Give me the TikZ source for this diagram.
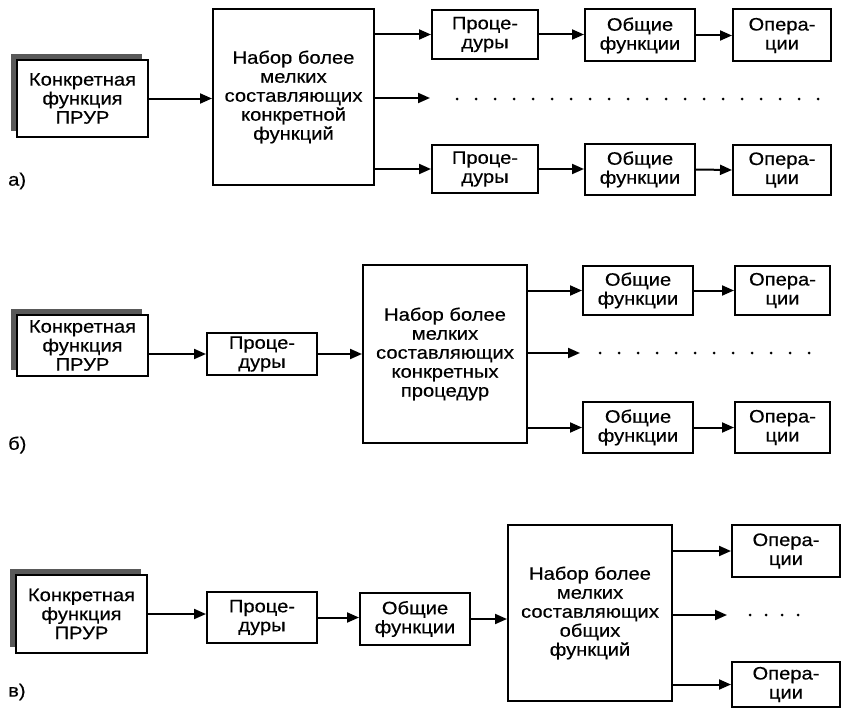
\documentclass[tikz,border=0pt]{standalone}
\usepackage{fontspec}
\setmainfont{Liberation Sans}[FakeStretch=1.12,FakeBold=0.4]
\usetikzlibrary{arrows.meta,shadows}
\begin{document}
\begin{tikzpicture}[x=1pt,y=-1pt,
 box/.style={draw, line width=2pt, fill=white, inner sep=0pt, align=center, font=\fontsize{18}{19}\selectfont},
 arr/.style={line width=2pt, -{Triangle[length=12pt,width=10pt]}},
 dotrow/.style={line width=3pt, line cap=round, dash pattern=on 0pt off #1},
 shad/.style={drop shadow={shadow xshift=-6pt,shadow yshift=6pt,fill=black!65,opacity=1}},
 lbl/.style={anchor=west, inner sep=0pt, font=\fontsize{18}{19}\selectfont}]
\useasboundingbox (0,0) rectangle (843,709);

% ---------- а) ----------
\node[box, shad, minimum width=131pt, minimum height=77pt] (c1) at (82.5,98.5) {Конкретная\\функция\\ПРУР};
\node[box, minimum width=161pt, minimum height=176pt] (b1) at (293.5,97) {Набор более\\мелких\\составляющих\\конкретной\\функций};
\node[box, minimum width=106pt, minimum height=49pt] (p1t) at (485,34.5) {Проце-\\дуры};
\node[box, minimum width=110pt, minimum height=52pt] (g1t) at (640,35.5) {Общие\\функции};
\node[box, minimum width=98pt, minimum height=52pt] (o1t) at (782,35.5) {Опера-\\ции};
\node[box, minimum width=106pt, minimum height=48pt] (p1b) at (485,169) {Проце-\\дуры};
\node[box, minimum width=110pt, minimum height=51pt] (g1b) at (640,169.5) {Общие\\функции};
\node[box, minimum width=98pt, minimum height=50pt] (o1b) at (782,170) {Опера-\\ции};
\coordinate (m1) at (430,98);
\coordinate (d1s) at (457,99);
\coordinate (d1e) at (820,99);
\node[lbl] (la) at (8,181) {а)};
\draw[arr] (c1.east) -- (c1.east -| b1.west);
\draw[arr] (b1.east |- p1t.west) -- (p1t.west);
\draw[arr] (b1.east |- m1) -- (m1);
\draw[arr] (b1.east |- p1b.west) -- (p1b.west);
\draw[arr] (p1t.east) -- (g1t.west |- p1t.east);
\draw[arr] (g1t.east) -- (o1t.west);
\draw[arr] (p1b.east) -- (g1b.west |- p1b.east);
\draw[arr] (g1b.east) -- (o1b.west);
\draw[dotrow=19pt] (d1s) -- (d1e);

% ---------- б) ----------
\node[box, shad, minimum width=131pt, minimum height=61pt] (c2) at (82.5,345.5) {Конкретная\\функция\\ПРУР};
\node[box, minimum width=110pt, minimum height=42pt] (p2) at (262,354) {Проце-\\дуры};
\node[box, minimum width=164pt, minimum height=178pt] (b2) at (445,354) {Набор более\\мелких\\составляющих\\конкретных\\процедур};
\node[box, minimum width=110pt, minimum height=49pt] (g2t) at (638,290.5) {Общие\\функции};
\node[box, minimum width=95pt, minimum height=49pt] (o2t) at (782.5,290.5) {Опера-\\ции};
\node[box, minimum width=110pt, minimum height=51pt] (g2b) at (638,427.5) {Общие\\функции};
\node[box, minimum width=95pt, minimum height=51pt] (o2b) at (782.5,427.5) {Опера-\\ции};
\coordinate (m2) at (580,353);
\coordinate (d2s) at (600,353);
\coordinate (d2e) at (810,353);
\node[lbl] (lb) at (8,445) {б)};
\draw[arr] (c2.east |- p2.west) -- (p2.west);
\draw[arr] (p2.east) -- (b2.west |- p2.east);
\draw[arr] (b2.east |- g2t.west) -- (g2t.west);
\draw[arr] (b2.east |- m2) -- (m2);
\draw[arr] (b2.east |- g2b.west) -- (g2b.west);
\draw[arr] (g2t.east) -- (o2t.west);
\draw[arr] (g2b.east) -- (o2b.west);
\draw[dotrow=19pt] (d2s) -- (d2e);

% ---------- в) ----------
\node[box, shad, minimum width=131pt, minimum height=78pt] (c3) at (81.5,614) {Конкретная\\функция\\ПРУР};
\node[box, minimum width=110pt, minimum height=51pt] (p3) at (262,617.5) {Проце-\\дуры};
\node[box, minimum width=110pt, minimum height=52pt] (g3) at (415,619) {Общие\\функции};
\node[box, minimum width=164pt, minimum height=176pt] (b3) at (590,613) {Набор более\\мелких\\составляющих\\общих\\функций};
\node[box, minimum width=108pt, minimum height=52pt] (o3t) at (786,551) {Опера-\\ции};
\node[box, minimum width=108pt, minimum height=45pt] (o3b) at (786,684.5) {Опера-\\ции};
\coordinate (m3) at (727,615);
\coordinate (d3s) at (750,615);
\coordinate (d3e) at (814,615);
\node[lbl] (lc) at (8,692) {в)};
\draw[arr] (c3.east) -- (c3.east -| p3.west);
\draw[arr] (p3.east) -- (p3.east -| g3.west);
\draw[arr] (g3.east) -- (g3.east -| b3.west);
\draw[arr] (b3.east |- o3t.west) -- (o3t.west);
\draw[arr] (b3.east |- m3) -- (m3);
\draw[arr] (b3.east |- o3b.west) -- (o3b.west);
\draw[dotrow=16pt] (d3s) -- (d3e);
\end{tikzpicture}
\end{document}
